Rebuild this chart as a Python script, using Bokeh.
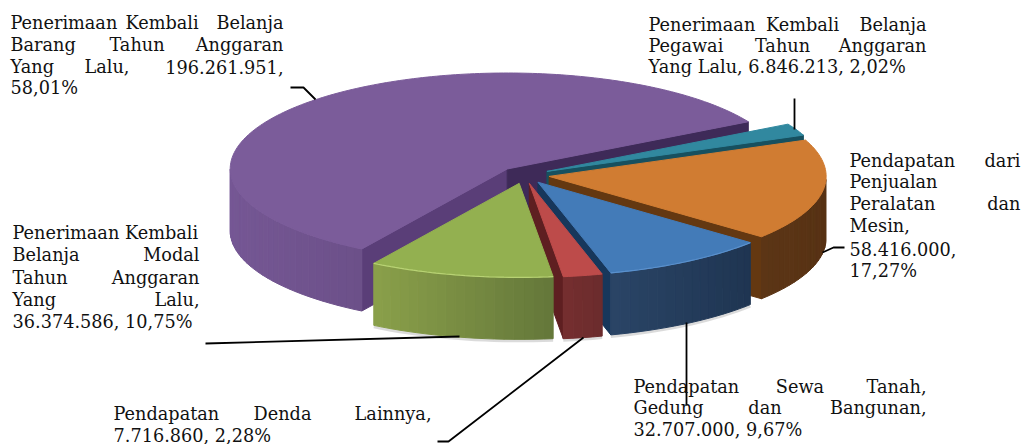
import math
from bokeh.plotting import figure
from bokeh.models import Range1d
from bokeh.core.properties import value
from bokeh.embed import file_html
from bokeh.resources import INLINE

# ---- data (clockwise from the first slice) ----
categories = ["Penerimaan Kembali Belanja Pegawai Tahun Anggaran Yang Lalu",
              "Pendapatan dari Penjualan Peralatan dan Mesin",
              "Pendapatan Sewa Tanah, Gedung dan Bangunan",
              "Pendapatan Denda Lainnya",
              "Penerimaan Kembali Belanja Modal Tahun Anggaran Yang Lalu",
              "Penerimaan Kembali Belanja Barang Tahun Anggaran Yang Lalu"]
values = [6846213, 58416000, 32707000, 7716860, 36374586, 196261951]

# ---- styles ----
top_colors = ["#31889f", "#d07c32", "#437bb8", "#bd4b4a", "#93b050", "#7b5c9a"]
wall_cw = ["#17505f", "#643811", "#17375b", "#5e1f21", "#66793a", "#3e2a58"]
wall_ccw = ["#17505f", "#643811", "#17375b", "#5e1f21", "#66793a", "#5a3e78"]
side_left = ["#2a7488", "#5c3515", "#2a4566", "#752e2f", "#8aa04a", "#755794"]
side_right = ["#2a7488", "#573214", "#1f3552", "#6b2c2d", "#64773a", "#6c5089"]
rim_colors = [None, None, "#5a90cc", None, "#b8d274", None]
shadow = [False, False, True, True, True, False]
draw_order = [5, 0, 1, 2, 3, 4]

CX, CY, RX, RY_BACK, RY_FRONT, DEPTH, EXPLODE, START = 524, 174.6, 277, 96, 94, 62, 0.09, 29.5
FONT, FONT_SIZE, CHAR = "DejaVu Serif", "17.7px", 10.0


def pt(ax, ay, deg):
    r = math.radians(deg)
    s = math.sin(r)
    return ax + RX * math.cos(r), ay - (RY_BACK if s > 0 else RY_FRONT) * s


def arc(a0, a1, step=1.0):
    n = max(2, int(abs(a1 - a0) / step) + 1)
    return [a0 + (a1 - a0) * i / (n - 1) for i in range(n)]


def mix(c0, c1, t):
    a = [int(c0[i:i + 2], 16) for i in (1, 3, 5)]
    b = [int(c1[i:i + 2], 16) for i in (1, 3, 5)]
    return "#%02x%02x%02x" % tuple(round(x + (y - x) * t) for x, y in zip(a, b))


p = figure(width=1023, height=444, x_range=Range1d(0, 1023), y_range=Range1d(444, 0),
           output_backend="svg", toolbar_location=None, min_border=0,
           background_fill_color="white", border_fill_color="white", outline_line_color=None)
p.axis.visible = False
p.grid.visible = False

total = sum(values)
spans = [v / total * 360 for v in values]
bounds = []
ang = START
for s in spans:
    bounds.append((ang, ang - s))  # ccw edge, cw edge
    ang -= s

xs, ys, fills = [], [], []
rims_x, rims_y, rims_c = [], [], []
shade_x, shade_y = [], []
for i in draw_order:
    hi, lo = bounds[i]
    mid = (hi + lo) / 2
    ax = CX + EXPLODE * RX * math.cos(math.radians(mid))
    ay = CY - EXPLODE * RY_FRONT * math.sin(math.radians(mid))
    # radial walls
    for edge, visible, col in ((hi, math.cos(math.radians(hi)) < 0, wall_ccw[i]),
                               (lo, math.cos(math.radians(lo)) > 0, wall_cw[i])):
        if visible:
            ex, ey = pt(ax, ay, edge)
            xs.append([ax, ex, ex, ax])
            ys.append([ay, ey, ey + DEPTH, ay + DEPTH])
            fills.append(col)
    # outer side, in shaded bands coloured by their place left to right
    front = [d for d in arc(hi, lo, 2.0) if math.sin(math.radians(d)) <= 0.001]
    if len(front) > 1:
        edge_x = [pt(ax, ay, d)[0] for d in front]
        x_min, x_max = min(edge_x), max(edge_x)
        for k in range(len(front) - 1):
            x0, y0 = pt(ax, ay, front[k])
            x1, y1 = pt(ax, ay, front[k + 1])
            xs.append([x0, x1, x1, x0])
            ys.append([y0, y1, y1 + DEPTH, y0 + DEPTH])
            t = ((x0 + x1) / 2 - x_min) / max(1.0, x_max - x_min)
            fills.append(mix(side_left[i], side_right[i], t))
        if shadow[i]:
            shade_x.append([pt(ax, ay, d)[0] for d in front])
            shade_y.append([pt(ax, ay, d)[1] + DEPTH + 1.5 for d in front])
    # top face
    top = [pt(ax, ay, d) for d in arc(hi, lo)]
    xs.append([ax] + [q[0] for q in top])
    ys.append([ay] + [q[1] for q in top])
    fills.append(top_colors[i])
    if rim_colors[i]:
        rims_x.append([q[0] for q in top])
        rims_y.append([q[1] for q in top])
        rims_c.append(rim_colors[i])

p.multi_line(shade_x, shade_y, line_color="#888888", line_alpha=0.3, line_width=3)
# patches are painted in list order; fill and stroke share a colour to hide seams
p.patches(xs, ys, fill_color=fills, line_color=fills, line_width=1)
p.multi_line(rims_x, rims_y, line_color=rims_c, line_width=1.2)

# ---- leader lines ----
lx = [[290, 303, 315], [794, 794], [844, 833, 822], [686, 686], [583, 448, 437], [459, 205]]
ly = [[87, 87, 99], [98, 129], [247, 247, 252], [322, 405], [337, 441, 441], [336, 343]]
p.multi_line(lx, ly, line_color="black", line_width=1.8)

# ---- labels: (left, right, centre y, words, justified) ----
labels = [
    (10, 283, 23, ["Penerimaan", "Kembali", "Belanja"], True),
    (10, 283, 45, ["Barang", "Tahun", "Anggaran"], True),
    (10, 283, 67, ["Yang", "Lalu,", "196.261.951,"], True),
    (10, 283, 88, ["58,01%"], False),
    (648, 926, 25, ["Penerimaan", "Kembali", "Belanja"], True),
    (648, 926, 46, ["Pegawai", "Tahun", "Anggaran"], True),
    (648, 926, 67, ["Yang Lalu, 6.846.213, 2,02%"], False),
    (849, 1020, 161, ["Pendapatan", "dari"], True),
    (849, 1020, 182, ["Penjualan"], False),
    (849, 1020, 204, ["Peralatan", "dan"], True),
    (849, 1020, 226, ["Mesin,"], False),
    (849, 1020, 249, ["58.416.000,"], False),
    (849, 1020, 271, ["17,27%"], False),
    (12, 199, 233, ["Penerimaan Kembali"], False),
    (12, 199, 255, ["Belanja", "Modal"], True),
    (12, 199, 278, ["Tahun", "Anggaran"], True),
    (12, 199, 300, ["Yang", "Lalu,"], True),
    (12, 199, 322, ["36.374.586, 10,75%"], False),
    (113, 431, 414, ["Pendapatan", "Denda", "Lainnya,"], True),
    (113, 431, 436, ["7.716.860, 2,28%"], False),
    (633, 926, 387, ["Pendapatan", "Sewa", "Tanah,"], True),
    (633, 926, 408, ["Gedung", "dan", "Bangunan,"], True),
    (633, 926, 430, ["32.707.000, 9,67%"], False),
]
TEXT_SHIFT = -1
for x0, x1, y, words, just in labels:
    y = y + TEXT_SHIFT
    if not just or len(words) == 1:
        p.text([x0], [y], text=[words[0]], text_font=value(FONT), text_font_size=FONT_SIZE,
               text_color="#111111", text_align="left", text_baseline="middle")
        continue
    widths = [len(w) * CHAR for w in words]
    gap = (x1 - x0 - sum(widths)) / (len(words) - 1)
    cur = x0
    for j, w in enumerate(words):
        if j == 0:
            px, al = x0, "left"
        elif j == len(words) - 1:
            px, al = x1, "right"
        else:
            px, al = cur + widths[j] / 2, "center"
        p.text([px], [y], text=[w], text_font=value(FONT), text_font_size=FONT_SIZE,
               text_color="#111111", text_align=al, text_baseline="middle")
        cur += widths[j] + gap

open("out.html", "w").write(file_html(p, INLINE))
